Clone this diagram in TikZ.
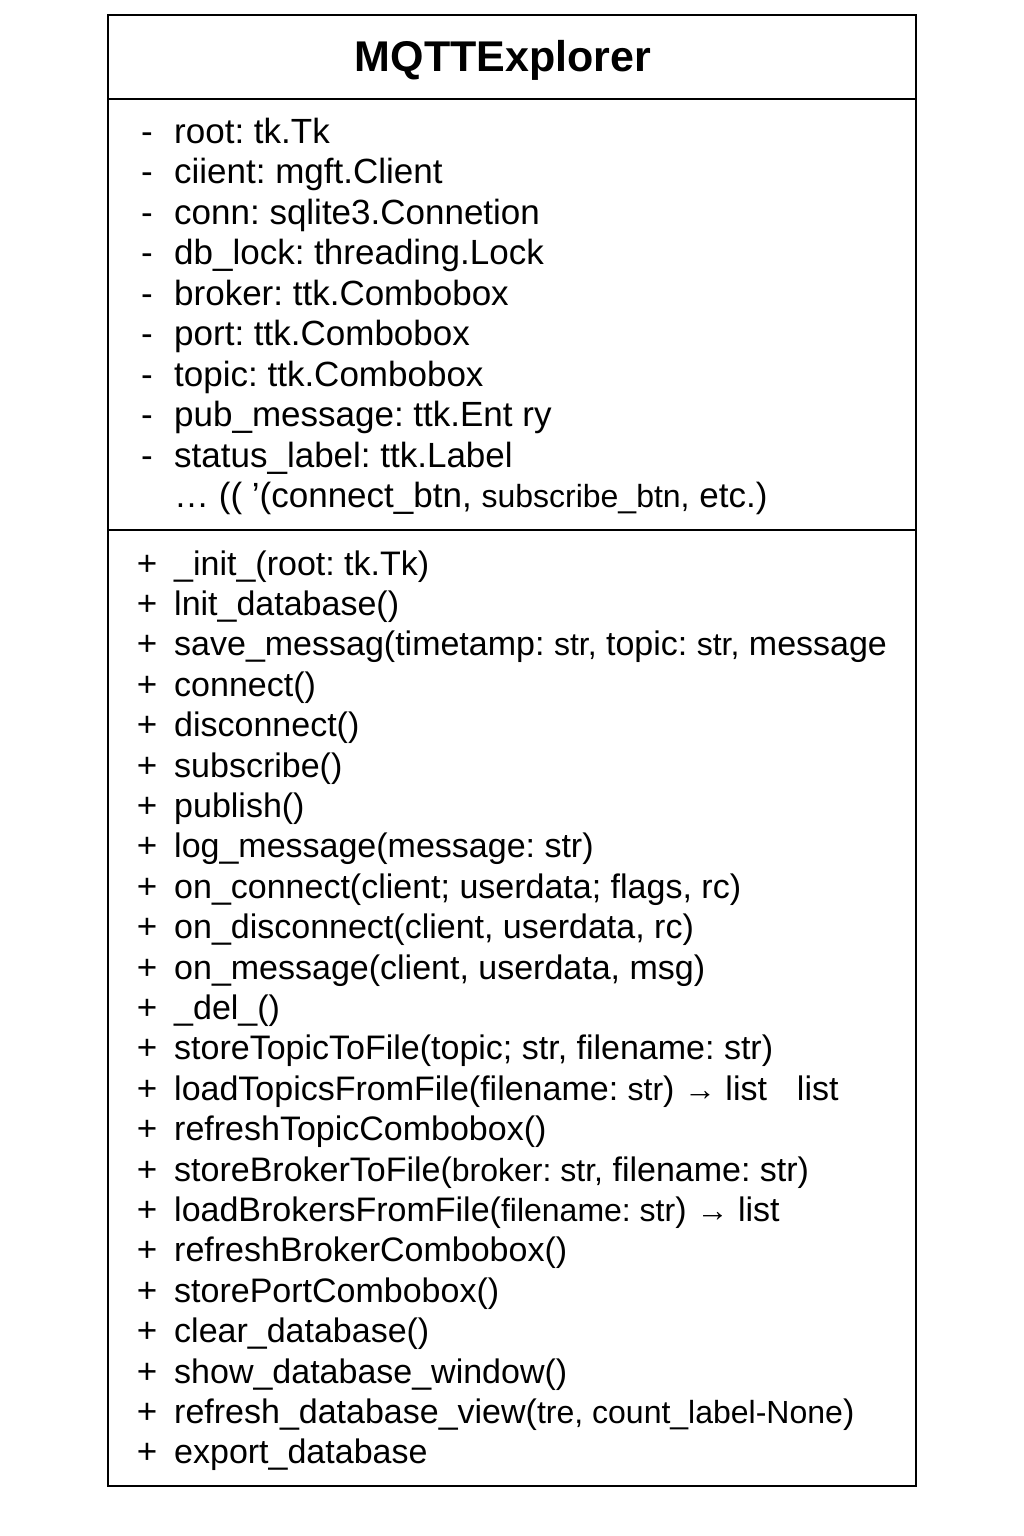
\documentclass[tikz,border=0pt]{standalone}
\usepackage{fontspec}
\setmainfont{Liberation Sans}
\frenchspacing
\begin{document}
\begin{tikzpicture}[x=1pt,y=-1pt,
  txt/.style={anchor=base west,inner sep=0pt,font=\fontsize{35}{40}\selectfont},
  mtxt/.style={anchor=base west,inner sep=0pt,font=\fontsize{34}{40}\selectfont},
  vismark/.style={anchor=base,inner sep=0pt,font=\fontsize{35}{40}\selectfont},
  frame/.style={draw=black,line width=2pt}]
\useasboundingbox (0,0) rectangle (1024,1536);
\newcommand{\smf}[1]{{\fontsize{32}{36}\selectfont #1}}
% class box
\draw[frame] (108,15) rectangle (916,1486);
\coordinate (d1l) at (108,99); \coordinate (d1r) at (916,99);
\coordinate (d2l) at (108,530); \coordinate (d2r) at (916,530);
\draw[frame] (d1l) -- (d1r);
\draw[frame] (d2l) -- (d2r);
\node[inner sep=0pt,font=\fontsize{43}{48}\selectfont\bfseries] (title) at (503,60) {MQTTExplorer};
% attributes
\foreach \i in {0,...,8} {\node[vismark] (am\i) at (147,{143+40.5*\i}) {-};}
\node[txt] (a1) at (174,143) {root: tk.Tk};
\node[txt] (a2) at (174,183.5) {ciient: mgft.Client};
\node[txt] (a3) at (174,224) {conn: sqlite3.Connetion};
\node[txt] (a4) at (174,264.5) {db\_lock: threading.Lock};
\node[txt] (a5) at (174,305) {broker: ttk.Combobox};
\node[txt] (a6) at (174,345.5) {port: ttk.Combobox};
\node[txt] (a7) at (174,386) {topic: ttk.Combobox};
\node[txt] (a8) at (174,426.5) {pub\_message: ttk.Ent ry};
\node[txt] (a9) at (174,467) {status\_label: ttk.Label};
\node[txt] (a10) at (174,507.5) {… (( ’(connect\_btn, \smf{subscribe\_btn,} etc.)};
% methods
\foreach \i in {0,...,22} {\node[vismark] (mm\i) at (147,{575+40.4*\i}) {+};}
\node[mtxt] (m1) at (174,575) {\_init\_(root: tk.Tk)};
\node[mtxt] (m2) at (174,615.4) {lnit\_database()};
\node[mtxt] (m3) at (174,655.8) {save\_messag(timetamp: \smf{str,} topic: \smf{str,} message};
\node[mtxt] (m4) at (174,696.2) {connect()};
\node[mtxt] (m5) at (174,736.6) {disconnect()};
\node[mtxt] (m6) at (174,777) {subscribe()};
\node[mtxt] (m7) at (174,817.4) {publish()};
\node[mtxt] (m8) at (174,857.8) {log\_message(message: str)};
\node[mtxt] (m9) at (174,898.2) {on\_connect(client; userdata; flags, rc)};
\node[mtxt] (m10) at (174,938.6) {on\_disconnect(client, userdata, rc)};
\node[mtxt] (m11) at (174,979) {on\_message(client, userdata, msg)};
\node[mtxt] (m12) at (174,1019.4) {\_del\_()};
\node[mtxt] (m13) at (174,1059.8) {storeTopicToFile(topic; str, filename: str)};
\node[mtxt] (m14) at (174,1100.2) {loadTopicsFromFile(filename: \smf{str}) \smf{→} list\hspace{30pt}list};
\node[mtxt] (m15) at (174,1140.6) {refreshTopicCombobox()};
\node[mtxt] (m16) at (174,1181) {storeBrokerToFile(\smf{broker: str,} filename: str)};
\node[mtxt] (m17) at (174,1221.4) {loadBrokersFromFile(\smf{filename: str})\hspace{10pt}\smf{→} list};
\node[mtxt] (m18) at (174,1261.8) {refreshBrokerCombobox()};
\node[mtxt] (m19) at (174,1302.2) {storePortCombobox()};
\node[mtxt] (m20) at (174,1342.6) {clear\_database()};
\node[mtxt] (m21) at (174,1383) {show\_database\_window()};
\node[mtxt] (m22) at (174,1423.4) {refresh\_database\_view(\smf{tre, count\_label-None})};
\node[mtxt] (m23) at (174,1463.8) {export\_database};
\end{tikzpicture}
\end{document}
